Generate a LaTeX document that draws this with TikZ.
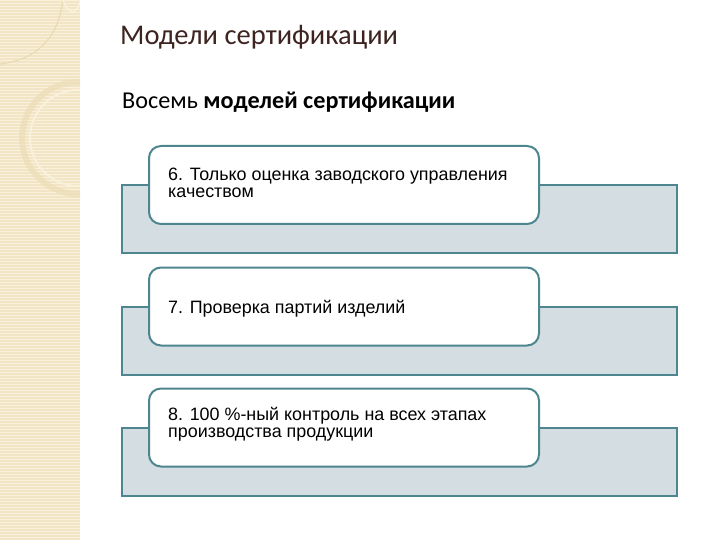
\documentclass[tikz,border=0pt]{standalone}
\usepackage{fontspec}
\setmainfont{Carlito}
\newfontfamily\boxfont{Liberation Sans}
\definecolor{teal1}{RGB}{78,134,144}
\definecolor{rectfill}{RGB}{212,222,226}
\definecolor{titlecol}{RGB}{62,36,32}
\definecolor{beige}{RGB}{241,229,197}
\definecolor{beigelight}{RGB}{249,241,219}
\definecolor{beigedark}{RGB}{234,219,180}
\tikzset{
  backrect/.style={draw=teal1, line width=2pt, fill=rectfill, minimum width=555pt, minimum height=68pt, inner sep=0pt},
  frontbox/.style={draw=teal1, line width=2pt, fill=white, rounded corners=12pt, minimum width=390pt, minimum height=78pt, inner sep=0pt},
  boxtext/.style={anchor=base west, inner sep=0pt, font=\boxfont\fontsize{17.9pt}{16pt}\selectfont, text=black},
}
\begin{document}
\begin{tikzpicture}[x=1pt,y=-1pt]
\useasboundingbox (0,0) rectangle (720,540);
\fill[white] (0,0) rectangle (720,540);
% decorative strip
\begin{scope}
\clip (0,0) rectangle (80,540);
\fill[beige] (0,0) rectangle (80,540);
\foreach \yy in {0,3,...,540} {\draw[beigelight, line width=0.9pt] (0,\yy) -- (80,\yy);}
\draw[beigedark, line width=1.2pt] (63,0) .. controls (58,40) and (35,60) .. (0,64);
\draw[beigelight, line width=1.5pt] (63,0) .. controls (70,20) and (80,10) .. (80,0);
\draw[beigedark, line width=6pt, opacity=0.6] (78,138) circle (56);
\draw[beigelight, line width=2pt] (78,138) circle (48);
\end{scope}
% titles
\node[anchor=base west, inner sep=0pt, text=titlecol, font=\fontsize{28.5pt}{30pt}\selectfont] (title) at (120,45) {Модели сертификации};
\node[anchor=base west, inner sep=0pt, text=black, font=\fontsize{24.2pt}{26pt}\selectfont] (sub) at (122,109) {Восемь \textbf{моделей сертификации}};
% items
\node[backrect] (r1) at (399.5,219) {};
\node[frontbox] (b1) at (344,185) {};
\node[boxtext] (t1a) at (168,181) {6. Только оценка заводского управления};
\node[boxtext] (t1b) at (168,198) {качеством};

\node[backrect] (r2) at (399.5,341) {};
\node[frontbox] (b2) at (344,306.5) {};
\node[boxtext] (t2a) at (168,313) {7. Проверка партий изделий};

\node[backrect] (r3) at (399.5,462) {};
\node[frontbox] (b3) at (344,427.5) {};
\node[boxtext] (t3a) at (168,420) {8. 100 \%-ный контроль на всех этапах};
\node[boxtext] (t3b) at (168,437) {производства продукции};
\end{tikzpicture}
\end{document}
